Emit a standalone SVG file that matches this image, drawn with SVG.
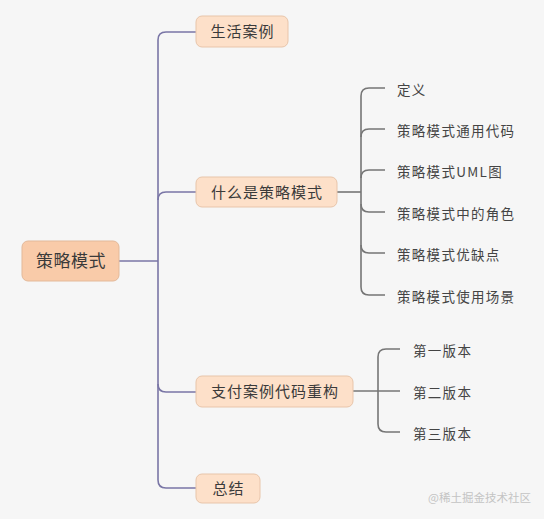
<svg xmlns="http://www.w3.org/2000/svg" width="544" height="519" viewBox="0 0 544 519">
<style>
text{font-family:"Noto Sans CJK SC","Liberation Sans",sans-serif;fill:#3a3a3a}
.root rect{fill:#f9cba9;stroke:#e3b999;stroke-width:1}
.l1 rect{fill:#fde0c9;stroke:#e8c5aa;stroke-width:1}
.l1 text{font-size:15px;letter-spacing:1px}
.leaf text{font-size:13.5px;letter-spacing:1.3px;fill:#444}
.main{fill:none;stroke:#7a76a6;stroke-width:1.6}
.sub{fill:none;stroke:#767676;stroke-width:1.6}
.wm{font-size:11.5px;fill:#c4c4c4}
</style>
<rect width="544" height="519" fill="#f6f6f6"/>
<g id="connectors">
<path class="main" d="M119 261 H158"/>
<path class="main" d="M196 32 H166 Q158 32 158 40 V480 Q158 488 166 488 H196"/>
<path class="main" d="M158 200 Q158 192 166 192 H196"/>
<path class="main" d="M158 384 Q158 392 166 392 H196"/>
<path class="sub" d="M337 192 H361"/>
<path class="sub" d="M385 88 H369 Q361 88 361 96 V287 Q361 295 369 295 H385"/>
<path class="sub" d="M361 137 Q361 129 369 129 H385"/>
<path class="sub" d="M361 178 Q361 170 369 170 H385"/>
<path class="sub" d="M361 204 Q361 212 369 212 H385"/>
<path class="sub" d="M361 245 Q361 253 369 253 H385"/>
<path class="sub" d="M353 391 H400"/>
<path class="sub" d="M400 349 H386 Q378 349 378 357 V424 Q378 432 386 432 H400"/>
</g>
<g id="root" class="root">
<rect x="22" y="241" width="97" height="40" rx="6"/>
<text x="71" y="267" font-size="17" letter-spacing="0.5" text-anchor="middle">策略模式</text>
</g>
<g id="n-life" class="l1">
<rect x="196" y="16" width="92" height="31" rx="6"/>
<text x="242.5" y="37" text-anchor="middle">生活案例</text>
</g>
<g id="n-what" class="l1">
<rect x="196" y="177" width="141" height="30" rx="6"/>
<text x="267" y="198" text-anchor="middle">什么是策略模式</text>
</g>
<g id="n-pay" class="l1">
<rect x="196" y="376" width="157" height="31" rx="6"/>
<text x="275" y="397" text-anchor="middle">支付案例代码重构</text>
</g>
<g id="n-sum" class="l1">
<rect x="196" y="474" width="64" height="29" rx="6"/>
<text x="228.5" y="494" text-anchor="middle">总结</text>
</g>
<g id="c-def" class="leaf"><text x="397" y="95">定义</text></g>
<g id="c-code" class="leaf"><text x="397" y="136">策略模式通用代码</text></g>
<g id="c-uml" class="leaf"><text x="397" y="177">策略模式UML图</text></g>
<g id="c-role" class="leaf"><text x="397" y="219">策略模式中的角色</text></g>
<g id="c-pros" class="leaf"><text x="397" y="260">策略模式优缺点</text></g>
<g id="c-use" class="leaf"><text x="397" y="302">策略模式使用场景</text></g>
<g id="c-v1" class="leaf"><text x="413" y="356">第一版本</text></g>
<g id="c-v2" class="leaf"><text x="413" y="398">第二版本</text></g>
<g id="c-v3" class="leaf"><text x="413" y="439">第三版本</text></g>
<text class="wm" x="428" y="502">@稀土掘金技术社区</text>
</svg>
